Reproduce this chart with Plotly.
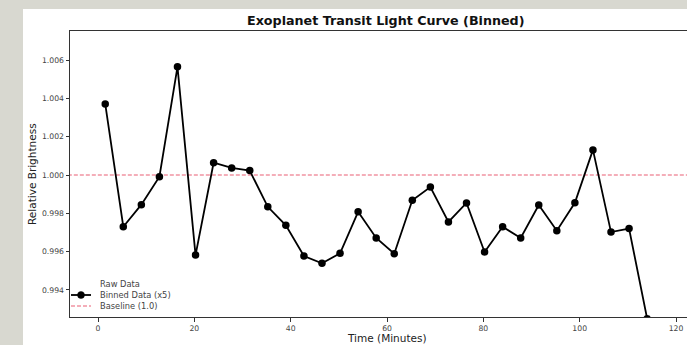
import plotly.graph_objects as go

# ---- data ----
bin_time = [1.5 + 3.75 * i for i in range(31)]
bin_flux = [1.00371, 0.99730, 0.99845, 0.99991, 1.00565, 0.99582, 1.00064, 1.00037,
            1.00023, 0.99834, 0.99737, 0.99577, 0.99539, 0.99591, 0.99808, 0.99671,
            0.99589, 0.99868, 0.99937, 0.99755, 0.99854, 0.99598, 0.99730, 0.99671,
            0.99843, 0.99709, 0.99855, 1.00131, 0.99702, 0.99720, 0.99250]
baseline = 1.0
x_ticks = [0, 20, 40, 60, 80, 100, 120]
y_ticks = [0.994, 0.996, 0.998, 1.000, 1.002, 1.004, 1.006]
legend_labels = ["Raw Data", "Binned Data (x5)", "Baseline (1.0)"]

W, H = 687, 345
L, R, T, B = 70, 0, 31, 28
pw, ph = W - L - R, H - T - B

def px_x(p):
    return (p - L) / pw

def px_y(p):
    return (H - B - p) / ph

FONT = "DejaVu Sans"
fig = go.Figure()

fig.add_trace(go.Scatter(x=[x_ticks[0] - 10, x_ticks[-1] + 10], y=[baseline, baseline],
                         mode="lines", line=dict(color="rgba(225,40,70,0.75)", width=1.2, dash="4px,2px"),
                         showlegend=False, hoverinfo="skip"))
fig.add_trace(go.Scatter(x=bin_time, y=bin_flux, mode="lines+markers",
                         line=dict(color="black", width=1.8),
                         marker=dict(color="black", size=7.5),
                         showlegend=False))

shapes = [
    dict(type="rect", xref="paper", yref="paper", x0=px_x(23), x1=px_x(W + 5),
         y0=px_y(H + 5), y1=px_y(9), fillcolor="white", line=dict(width=0), layer="below"),
]
# manual legend
leg_y = [284, 295, 306]
shapes.append(dict(type="line", xref="paper", yref="paper", x0=px_x(71), x1=px_x(91),
                   y0=px_y(leg_y[1]), y1=px_y(leg_y[1]), line=dict(color="black", width=1.8)))
shapes.append(dict(type="circle", xref="paper", yref="paper", x0=px_x(77.5), x1=px_x(84.5),
                   y0=px_y(leg_y[1] + 3.5), y1=px_y(leg_y[1] - 3.5), fillcolor="black",
                   line=dict(color="black", width=0.5)))
shapes.append(dict(type="line", xref="paper", yref="paper", x0=px_x(71), x1=px_x(91),
                   y0=px_y(leg_y[2]), y1=px_y(leg_y[2]),
                   line=dict(color="rgba(225,40,70,0.75)", width=1.2, dash="4px,2px")))

annotations = [
    dict(text="<b>Exoplanet Transit Light Curve (Binned)</b>", xref="paper", yref="paper",
         x=px_x(385), y=px_y(21), showarrow=False, font=dict(family=FONT, size=12.7, color="#111"),
         xanchor="center", yanchor="middle"),
    dict(text="Time (Minutes)", xref="paper", yref="paper", x=px_x(387), y=px_y(338),
         showarrow=False, font=dict(family=FONT, size=10.5, color="#222"),
         xanchor="center", yanchor="middle"),
    dict(text="Relative Brightness", xref="paper", yref="paper", x=px_x(32), y=px_y(174),
         showarrow=False, textangle=-90, font=dict(family=FONT, size=10.5, color="#222"),
         xanchor="center", yanchor="middle"),
]
for lab, yy in zip(legend_labels, leg_y):
    annotations.append(dict(text=lab, xref="paper", yref="paper", x=px_x(98), y=px_y(yy),
                            showarrow=False, xanchor="left", yanchor="middle",
                            font=dict(family=FONT, size=8.3, color="#444")))

x0_px, x_scale = 98.0, 4.817
y1_px, y_scale = 175.0, 19150.0
fig.update_layout(
    width=W, height=H,
    margin=dict(l=L, r=R, t=T, b=B),
    paper_bgcolor="#d8d8d0",
    plot_bgcolor="rgba(0,0,0,0)",
    showlegend=False,
    shapes=shapes,
    annotations=annotations,
    xaxis=dict(range=[(L - x0_px) / x_scale, (W - R - x0_px) / x_scale],
               tickvals=x_ticks, ticks="outside", ticklen=3.5, tickwidth=0.8, tickcolor="#333",
               showline=True, linecolor="#333", linewidth=1, mirror=True, showgrid=False,
               zeroline=False, tickfont=dict(family=FONT, size=7.7, color="#444")),
    yaxis=dict(range=[1 - (H - B - y1_px) / y_scale, 1 + (y1_px - T) / y_scale],
               tickvals=y_ticks, tickformat=".3f", ticks="outside", ticklen=3.5, tickwidth=0.8,
               tickcolor="#333", showline=True, linecolor="#333", linewidth=1, mirror=False,
               showgrid=False, zeroline=False, tickfont=dict(family=FONT, size=7.7, color="#444")),
)

fig.write_html("out.html", config={"displayModeBar": False},
               post_script="document.body.style.margin='0';document.body.style.overflow='hidden';")
